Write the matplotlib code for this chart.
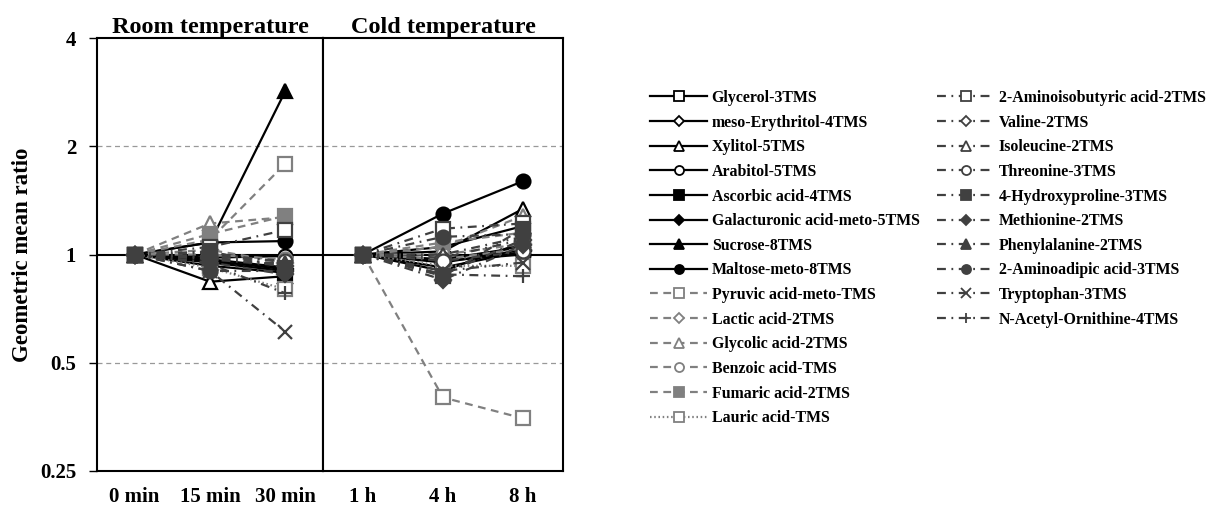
import matplotlib
matplotlib.use("Agg")
import matplotlib.pyplot as plt
from matplotlib.lines import Line2D
from matplotlib.ticker import FixedLocator, NullLocator

plt.rcParams["font.family"] = ["Liberation Serif", "DejaVu Serif"]
plt.rcParams["font.weight"] = "bold"

# categories
room_labels = ["0 min", "15 min", "30 min"]
cold_labels = ["1 h", "4 h", "8 h"]

names = [
    "Glycerol-3TMS",
    "meso-Erythritol-4TMS",
    "Xylitol-5TMS",
    "Arabitol-5TMS",
    "Ascorbic acid-4TMS",
    "Galacturonic acid-meto-5TMS",
    "Sucrose-8TMS",
    "Maltose-meto-8TMS",
    "Pyruvic acid-meto-TMS",
    "Lactic acid-2TMS",
    "Glycolic acid-2TMS",
    "Benzoic acid-TMS",
    "Fumaric acid-2TMS",
    "Lauric acid-TMS",
    "2-Aminoisobutyric acid-2TMS",
    "Valine-2TMS",
    "Isoleucine-2TMS",
    "Threonine-3TMS",
    "4-Hydroxyproline-3TMS",
    "Methionine-2TMS",
    "Phenylalanine-2TMS",
    "2-Aminoadipic acid-3TMS",
    "Tryptophan-3TMS",
    "N-Acetyl-Ornithine-4TMS",
]

# ratios at 0 min, 15 min, 30 min
room_values = [
    [1, 0.97, 0.92],
    [1, 0.95, 0.90],
    [1, 0.84, 0.87],
    [1, 0.98, 0.99],
    [1, 0.93, 0.89],
    [1, 0.96, 0.91],
    [1, 1.08, 2.85],
    [1, 1.08, 1.09],
    [1, 1.10, 1.79],
    [1, 1.03, 0.95],
    [1, 1.22, 1.27],
    [1, 1.00, 0.97],
    [1, 1.14, 1.28],
    [1, 0.92, 0.80],
    [1, 1.05, 1.17],
    [1, 0.97, 0.93],
    [1, 0.98, 0.94],
    [1, 0.99, 0.96],
    [1, 1.02, 0.92],
    [1, 0.95, 0.88],
    [1, 1.01, 0.95],
    [1, 0.90, 0.90],
    [1, 0.90, 0.61],
    [1, 0.94, 0.78],
]

# ratios at 1 h, 4 h, 8 h
cold_values = [
    [1, 0.97, 1.05],
    [1, 0.95, 1.03],
    [1, 1.02, 1.34],
    [1, 0.96, 1.00],
    [1, 0.90, 1.08],
    [1, 0.92, 1.02],
    [1, 1.05, 1.20],
    [1, 1.30, 1.60],
    [1, 0.40, 0.35],
    [1, 1.00, 1.07],
    [1, 1.05, 1.28],
    [1, 0.97, 1.04],
    [1, 1.08, 1.15],
    [1, 0.93, 0.93],
    [1, 1.18, 1.22],
    [1, 0.98, 1.10],
    [1, 1.00, 1.12],
    [1, 0.96, 1.02],
    [1, 0.87, 1.18],
    [1, 0.85, 1.06],
    [1, 0.88, 1.10],
    [1, 1.12, 1.14],
    [1, 0.90, 0.95],
    [1, 0.88, 0.87],
]

BLACK = "#000000"
GRAY = "#808080"
DARK = "#404040"


def style(i):
    # (color, linestyle, marker, filled)
    if i < 8:
        marks = ["s", "D", "^", "o", "s", "D", "^", "o"]
        return BLACK, "-", marks[i], i >= 4
    if i < 13:
        marks = ["s", "D", "^", "o", "s"]
        return GRAY, (0, (3.5, 2.5)), marks[i - 8], i == 12
    if i == 13:
        return GRAY, (0, (0.7, 1.2)), "s", False
    marks = ["s", "D", "^", "o", "s", "D", "^", "o", "x", "+"]
    return DARK, (0, (4, 2.5, 0.8, 2.5)), marks[i - 14], i >= 18


fig = plt.figure(figsize=(12.15, 5.09), dpi=100)
bottom, top = 0.075, 0.925
ax1 = fig.add_axes([97 / 1215, bottom, 226 / 1215, top - bottom])
ax2 = fig.add_axes([323 / 1215, bottom, 240 / 1215, top - bottom])

for ax, vals, labels, title in [
    (ax1, room_values, room_labels, "Room temperature"),
    (ax2, cold_values, cold_labels, "Cold temperature"),
]:
    ax.set_yscale("log", base=2)
    ax.set_ylim(0.25, 4)
    ax.set_xlim(-0.5, 2.5)
    for y in [0.5, 2]:
        ax.axhline(y, color="#999999", ls=(0, (4, 3)), lw=0.9, zorder=0)
    ax.axhline(1, color="black", lw=1.5, zorder=1)
    x = list(range(len(labels)))
    for i, v in enumerate(vals):
        c, ls, m, filled = style(i)
        ms = 10 if m != "D" else 8
        ax.plot(x, v, color=c, ls=ls, lw=1.6, marker=m, ms=ms,
                mfc=c if filled else "white", mec=c, mew=1.6, zorder=2 + i * 0.01)
    ax.set_xticks(x)
    ax.set_xticklabels(labels, fontsize=15, fontweight="bold")
    ax.tick_params(axis="x", length=0, pad=12)
    ax.set_title(title, fontsize=17.5, fontweight="bold", pad=3)
    for s in ax.spines.values():
        s.set_linewidth(1.5)
    ax.yaxis.set_minor_locator(NullLocator())

ax1.yaxis.set_major_locator(FixedLocator([0.25, 0.5, 1, 2, 4]))
ax1.set_yticklabels(["0.25", "0.5", "1", "2", "4"], fontsize=15, fontweight="bold")
ax1.tick_params(axis="y", length=6, width=1, pad=9)
ax1.set_ylabel("Geometric mean ratio", fontsize=16.5, fontweight="bold", labelpad=5)
ax2.yaxis.set_major_locator(FixedLocator([0.25, 0.5, 1, 2, 4]))
ax2.set_yticklabels([])
ax2.tick_params(axis="y", length=0)

handles = []
for i, n in enumerate(names):
    c, ls, m, filled = style(i)
    ms = 6.5 if m != "D" else 5
    handles.append(Line2D([], [], color=c, ls=ls, lw=1.6, marker=m, ms=ms,
                          mfc=c if filled else "white", mec=c, mew=1.3))

common = dict(frameon=False, handlelength=3.6, handletextpad=0.3,
              labelspacing=0.545, borderpad=0, borderaxespad=0, loc="upper left",
              prop={"weight": "bold", "size": 11.4})
fig.legend(handles[:14], names[:14], bbox_to_anchor=(650 / 1215, 1 - 90 / 509), **common)
fig.legend(handles[14:], names[14:], bbox_to_anchor=(937 / 1215, 1 - 90 / 509), **common)

fig.savefig("out.png", dpi=100)
